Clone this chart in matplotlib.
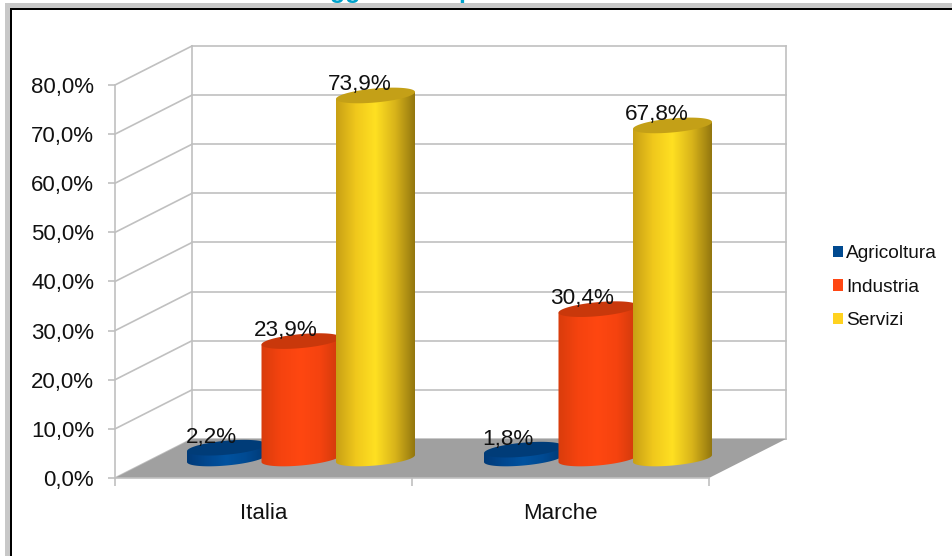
import numpy as np
import matplotlib
matplotlib.use("Agg")
import matplotlib.pyplot as plt
from matplotlib.colors import LinearSegmentedColormap
from matplotlib.patches import Rectangle, PathPatch, Polygon, Patch
from matplotlib.path import Path

plt.rcParams['font.family'] = ['Liberation Sans', 'DejaVu Sans']

# ── Data ─────────────────────────────────────────────────────────────────────
categories = ['Italia', 'Marche']
series = ['Agricoltura', 'Industria', 'Servizi']
agricoltura = [2.2, 1.8]
industria = [23.9, 30.4]
servizi = [73.9, 67.8]
yticks = [0, 10, 20, 30, 40, 50, 60, 70, 80]

# ── Styles ───────────────────────────────────────────────────────────────────
legend_colors = ['#004a90', '#ff4713', '#ffd21f']
top_colors = ['#003c78', '#c9380b', '#c4a017']
body_stops = [
    ['#003a78', '#00478f', '#00529f', '#004a92', '#003a76'],
    ['#d93c0c', '#f5430f', '#ff4711', '#f5430f', '#cf3a0c'],
    ['#c8a015', '#f0c81c', '#ffe022', '#d9b41a', '#93770f'],
]
GRID = '#c0c0c0'
W, H = 953, 556

# scale of the 3D look, in data units (one category = 297 px, 10% = 49.1 px)
DX, DY = 77 / 297, 39 / 4.91
BAR_W = 79 / 297
BAR_STEP = 74.5 / 297
ELL = 7 / 4.91
TILT = 3.5 / 4.91   # ellipses lean: left end lower, right end higher


def pct(v):
    return f'{v:.1f}%'.replace('.', ',')


fig = plt.figure(figsize=(W / 100, H / 100), dpi=100, facecolor='white')
ax = fig.add_axes([115 / W, 1 - 478 / H, 594 / W, 393 / H])
ax.patch.set_visible(False)

# ── Page border and the cut-off heading above it ─────────────────────────────
for x0, y0, x1, y1, c in [(5, 3, W, 8, '#c8c8c8'), (5, 3, 10, H, '#c8c8c8'),
                          (10, 8, W, 10, '#000000'), (10, 8, 12, H, '#000000')]:
    fig.add_artist(Rectangle((x0 / W, 1 - y1 / H), (x1 - x0) / W, (y1 - y0) / H,
                             transform=fig.transFigure, fc=c, ec='none'))
fig.text(330 / W, 1 + 2 / H, 'ggiunto', color='#00a3cc', fontsize=18, weight='bold', va='baseline')
fig.text(459 / W, 1 + 2 / H, 'per settore', color='#00a3cc', fontsize=18, weight='bold', va='baseline')

# ── Walls and floor ──────────────────────────────────────────────────────────
for v in yticks:
    ax.plot([0, DX], [v, v + DY], color=GRID, lw=1.2, clip_on=False, zorder=1)
    ax.plot([DX, 2 + DX], [v + DY, v + DY], color=GRID, lw=1.2, clip_on=False, zorder=1)
ax.plot([DX, DX], [DY, 80 + DY], color=GRID, lw=1.2, clip_on=False, zorder=1)
ax.plot([2 + DX, 2 + DX], [DY, 80 + DY], color=GRID, lw=1.2, clip_on=False, zorder=1)
ax.add_patch(Polygon([(0, 0), (2, 0), (2 + DX, DY), (DX, DY)], closed=True,
                     fc='#a0a0a0', ec='none', clip_on=False, zorder=2))

# ── Cylinders ────────────────────────────────────────────────────────────────
theta = np.linspace(0, np.pi, 60)
ang = np.linspace(0, 2 * np.pi, 120)
values = [agricoltura, industria, servizi]
for s, vals in enumerate(values):
    cmap = LinearSegmentedColormap.from_list(series[s], body_stops[s])
    for c, v in enumerate(vals):
        xc = c + 0.5 + DX / 2 - 1 / 297 + (s - 1) * BAR_STEP
        base = DY / 2
        top = base + v
        xs = xc + BAR_W / 2 * np.cos(theta)
        low = base - ELL * np.sin(theta) + TILT * np.cos(theta)
        verts = [(xc - BAR_W / 2, top - TILT)] + list(zip(xs[::-1], low[::-1])) + [(xc + BAR_W / 2, top + TILT)]
        body = PathPatch(Path(verts + [verts[0]], closed=True), transform=ax.transData,
                         fc='none', ec='none')
        im = ax.imshow(np.linspace(0, 1, 128)[None, :], cmap=cmap, aspect='auto',
                       extent=(xc - BAR_W / 2, xc + BAR_W / 2, base - ELL - TILT, top + TILT),
                       zorder=3 + s)
        im.set_clip_box(fig.bbox)
        im.set_clip_path(body)

        ax.add_patch(Polygon(np.column_stack([xc + BAR_W / 2 * np.cos(ang),
                                              top + ELL * np.sin(ang) + TILT * np.cos(ang)]),
                             closed=True, fc=top_colors[s], ec='none', clip_on=False, zorder=3 + s))
        ax.annotate(pct(v), (xc, top), xytext=(-15.5 * 0.72, 5 * 0.72), textcoords='offset points',
                    ha='center', va='baseline', fontsize=16.2, color='#111111', zorder=10,
                    annotation_clip=False)

# ── Axes ─────────────────────────────────────────────────────────────────────
ax.set_xlim(0, 2)
ax.set_ylim(0, 80)
ax.set_yticks(yticks)
ax.set_yticklabels([pct(v) for v in yticks], fontsize=16, color='#111111')
ax.set_xticks([0, 1, 2])
ax.set_xticklabels([])
ax.set_xticks([0.5, 1.5], minor=True)
ax.set_xticklabels(categories, minor=True, fontsize=16, color='#111111')
ax.tick_params(axis='y', color=GRID, width=1.2, length=5, pad=10)
ax.tick_params(axis='x', which='major', color=GRID, width=1.2, length=5.5)
ax.tick_params(axis='x', which='minor', length=0, pad=18)
for side in ['top', 'right']:
    ax.spines[side].set_visible(False)
for side in ['left', 'bottom']:
    ax.spines[side].set_color(GRID)
    ax.spines[side].set_linewidth(1.2)
    ax.spines[side].set_zorder(2.5)

handles = [Patch(fc=col, ec='none', label=name) for col, name in zip(legend_colors, series)]
fig.legend(handles=handles, loc='upper left', bbox_to_anchor=(833 / W, 1 - 245 / H),
           bbox_transform=fig.transFigure, frameon=False, fontsize=13.8, borderpad=0,
           borderaxespad=0, handlelength=0.53, handleheight=0.53, handletextpad=0.17,
           labelspacing=0.87, labelcolor='#111111')

fig.savefig('out.png', dpi=100)
